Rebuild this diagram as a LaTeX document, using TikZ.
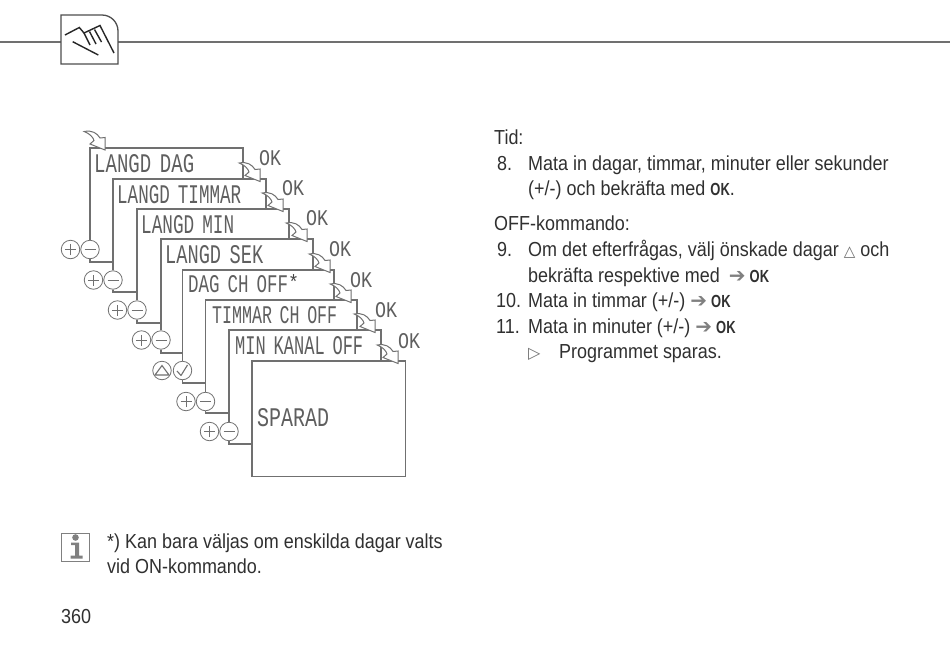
\documentclass[tikz,border=0pt]{standalone}
\usepackage{graphicx}
\usepackage{fontspec}
\setmainfont[FakeStretch=0.885]{Liberation Sans}
\newfontfamily\lcdfont[FakeStretch=0.7]{Liberation Mono}
\newfontfamily\symfont{DejaVu Sans}
\newfontfamily\okfont[FakeStretch=0.74]{Liberation Sans}
\definecolor{ln}{HTML}{707070}
\definecolor{tx}{HTML}{303030}
\definecolor{ar}{HTML}{808080}
\newcommand{\lcdtext}[3]{\resizebox{#1pt}{#2pt}{\lcdfont\fontdimen2\font=.32em #3}}
\newcommand{\okb}{{\fontsize{17.5}{17.5}\okfont\bfseries OK}}
\newcommand{\garr}{{\color{ar}\fontsize{20}{20}\symfont ➔}}
\begin{document}
\begin{tikzpicture}[x=1pt,y=-1pt,
  ln/.style={draw=ln,line width=1.15pt},
  rnd/.style={circle,draw=ln,line width=.8pt,minimum size=18.5pt,inner sep=0pt,fill=white},
  body/.style={anchor=base west,inner sep=0pt,text=tx,font=\fontsize{20.3}{24}\selectfont},
  lcd/.style={anchor=south west,inner sep=0pt,text=ln!85!black},
  sym/.style={draw=ln,line width=.9pt},
  curly/.style={draw=ln,line width=1pt,fill=white,line join=miter}]
\useasboundingbox (0,0) rectangle (950,646);
\fill[white] (0,0) rectangle (950,646);

% header
\node[draw=none,inner sep=0pt,minimum size=0pt] (hl) at (61,42) {};
\node[draw=none,inner sep=0pt,minimum size=0pt] (hr) at (118,42) {};
\coordinate (hw) at (0,42);
\coordinate (he) at (950,42);
\draw[ln] (hw) -- (hl.center);
\draw[ln] (hr.center) -- (he);
\draw[draw=ln!70!black,line width=1.3pt] (61,15) -- (102,15) arc[start angle=90,end angle=0,x radius=16,y radius=-16] -- (118,64) -- (61,64) -- cycle;
\draw[black!85,line width=1.4pt,line join=miter] (65,35) -- (79.3,27.5) -- (84,33) -- (100,25.5) -- (114,53);
\draw[black!85,line width=1.4pt] (84,33) -- (90,45) (89.5,31.5) -- (96,44) (94.5,29.5) -- (101.5,42) (72.7,41.7) -- (98.3,55);

% circles
\foreach \i/\mx/\cy in {1/90/249.5,2/113/280,3/137/310,4/161/340,6/205.5/401.5,7/229/431.5}{
  \node[rnd] (m\i) at (\mx,\cy) {};
  \pgfmathsetmacro{\px}{\mx-19.5}
  \node[rnd] (p\i) at (\px,\cy) {};
  \draw[sym] ([xshift=-5.5pt]m\i.center) -- ([xshift=5.5pt]m\i.center);
  \draw[sym] ([xshift=-5.5pt]p\i.center) -- ([xshift=5.5pt]p\i.center);
  \draw[sym] ([yshift=-5.5pt]p\i.center) -- ([yshift=5.5pt]p\i.center);
}
\node[rnd] (m5) at (182.5,370.5) {};
\node[rnd] (p5) at (162,370.5) {};
\draw[sym,line width=1.1pt,line join=miter] ([shift={(-7,4.5)}]p5.center) -- ([shift={(0,-5)}]p5.center) -- ([shift={(7,4.5)}]p5.center) -- cycle;
\draw[sym,line width=1.1pt,line join=round] ([shift={(-5.5,0.5)}]m5.center) -- ([shift={(-1.5,5)}]m5.center) -- ([shift={(5,-5.5)}]m5.center);

% display frames
\node[draw=ln,line width=1.15pt,minimum width=153.15pt,minimum height=115.15pt,inner sep=0pt,anchor=north west] (b8) at (251.43,360.43) {};
\foreach \i/\L/\T/\R/\nT in {1/90/148/243/179,2/113/179/266/209,3/137/209/289/239,4/161/239/313/270,5/182.5/270/334/300,6/205.5/300/357/330,7/229/330/381/361}{
  \coordinate (tl\i) at (\L,\T);
  \coordinate (re\i) at (\R,\nT);
  \draw[ln,line join=miter] (m\i.north) -- (tl\i) -| (re\i);
}
\coordinate (j1) at (113,262);
\coordinate (j2) at (137,292);
\coordinate (j3) at (161,323);
\coordinate (j4) at (182.5,353);
\coordinate (j5) at (205.5,383);
\coordinate (j6) at (229,413);
\coordinate (j7) at (252,444);
\foreach \i in {1,...,7}{ \draw[ln] (m\i.south) |- (j\i); }

% curved arrows
\foreach \n/\tx/\ty in {0/105/150,1/260/181.5,2/283/211.5,3/307/241.5,4/330/272.5,5/351/302.5,6/375/332.5,7/398/363.5}{
  \draw[curly,shift={(\tx,\ty)}] (-20.7,-18.5) .. controls (-13,-20) and (-8,-17) .. (-5,-12) -- (0,-12.5) -- (0,0) -- (-15,-6) -- (-11,-9.5) .. controls (-12,-13) and (-15,-16) .. (-20.7,-18.5) -- cycle;
}

% LCD texts
\node[lcd] (d1) at (94,173) {\lcdtext{100}{18}{LANGD DAG}};
\node[lcd] (d2) at (117,204) {\lcdtext{124}{18}{LANGD TIMMAR}};
\node[lcd] (d3) at (141,234) {\lcdtext{93}{18}{LANGD MIN}};
\node[lcd] (d4) at (165,264) {\lcdtext{98}{18}{LANGD SEK}};
\node[lcd] (d5) at (188,293) {\lcdtext{100}{17}{DAG CH OFF}};
\node[body,text=ln!60!black] (d5s) at (290,288) {*};
\node[lcd] (d6) at (212,324) {\lcdtext{125}{17}{TIMMAR CH OFF}};
\node[lcd] (d7) at (235,355) {\lcdtext{128}{18}{MIN KANAL OFF}};
\node[lcd] (d8) at (257,427) {\lcdtext{72}{18}{SPARAD}};
\foreach \n/\x/\y in {1/259/166,2/282/196,3/306/226,4/329/257,5/350/288,6/375/318,7/398/349}{
  \node[lcd] (ok\n) at (\x,\y) {\lcdtext{22}{15}{OK}};
}

% right text
\node[body] (t0) at (494,144) {Tid:};
\node[body] (n8) at (497,170) {8.};
\node[body] (t1) at (528,170) {Mata in dagar, timmar, minuter eller sekunder};
\node[body] (t2) at (528,195.5) {(+/-) och bekräfta med \okb.};
\node[body] (t3) at (494,230) {OFF-kommando:};
\node[body] (n9) at (497,256) {9.};
\node[body] (t4) at (528,256) {Om det efterfrågas, välj önskade dagar {\color{ln}\fontsize{15}{15}\symfont △} och};
\node[body] (t5) at (528,282) {bekräfta respektive med\hspace{9pt}\garr\hspace{4pt}\okb};
\node[body] (n10) at (496,307.5) {10.};
\node[body] (t6) at (528,307.5) {Mata in timmar (+/-)\hspace{5pt}\garr\hspace{4pt}\okb};
\node[body] (n11) at (496,333) {11.};
\node[body] (t7) at (528,333) {Mata in minuter (+/-)\hspace{5pt}\garr\hspace{4pt}\okb};
\node[body,text=ln] (tri) at (528,358) {\fontsize{16}{16}\symfont ▷};
\node[body] (t8) at (559,358) {Programmet sparas.};

% info note
\node[draw=ar,line width=1pt,fill=white,minimum size=28pt,inner sep=0pt,anchor=north west] (info) at (61,533) {};
\fill[ar] (75.5,537.5) circle[radius=3.3];
\fill[ar] (71,542.5) -- (79,542.5) -- (79,555.5) -- (82.5,555.5) -- (82.5,558.5) -- (70.5,558.5) -- (70.5,555.5) -- (75,555.5) -- (75,545) -- (71,545) -- cycle;
\node[body] (f1) at (107,548) {*) Kan bara väljas om enskilda dagar valts};
\node[body] (f2) at (107,573) {vid ON-kommando.};
\node[body] (pg) at (61,623) {360};
\end{tikzpicture}
\end{document}
